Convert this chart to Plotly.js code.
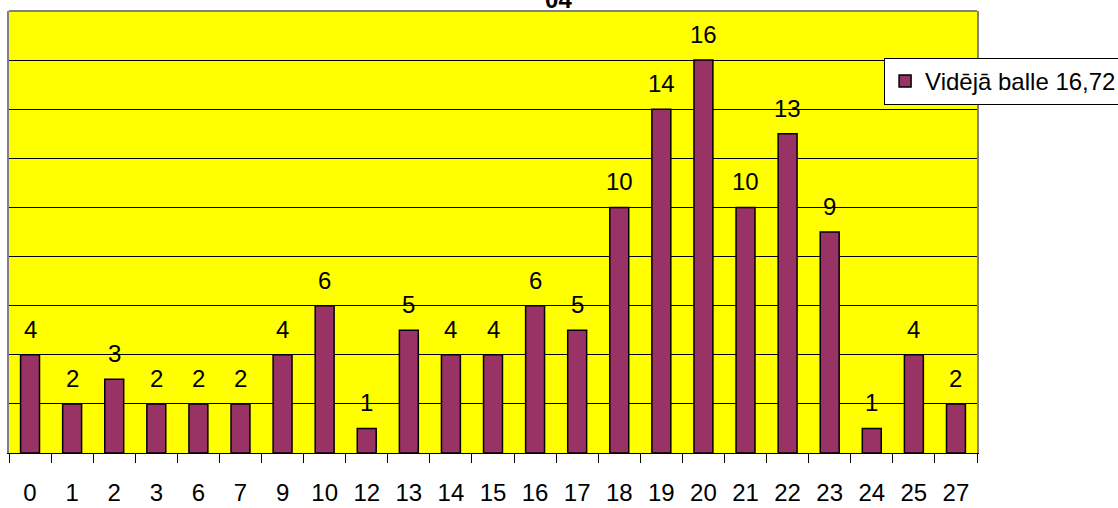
<!DOCTYPE html>
<html>
<head>
<meta charset="utf-8">
<script src="https://cdn.plot.ly/plotly-3.0.1.min.js"></script>
<style>html,body{margin:0;padding:0;background:#fff;}#chart{width:1118px;height:508px;}</style>
</head>
<body>
<div id="chart"></div>
<script>
const categories = ["0","1","2","3","6","7","9","10","12","13","14","15","16","17","18","19","20","21","22","23","24","25","27"];
const counts = [4,2,3,2,2,2,4,6,1,5,4,4,6,5,10,14,16,10,13,9,1,4,2];
const seriesName = "Vidējā balle 16,72";
const chartTitle = "04";

const FONT = "Liberation Sans, Arial, sans-serif";

const annotations = categories.map((c, i) => ({
  x: i, y: counts[i], xref: 'x', yref: 'y',
  text: String(counts[i]), showarrow: false,
  yanchor: 'bottom', yshift: 10,
  font: {family: FONT, size: 24, color: '#000'}
}));

const trace = {
  type: 'bar',
  x: categories,
  y: counts,
  name: seriesName,
  marker: {color: '#993366', line: {color: '#000', width: 1.5}},
  hoverinfo: 'x+y'
};

const layout = {
  width: 1118, height: 508,
  margin: {l: 9, r: 141, t: 11, b: 55, autoexpand: false},
  paper_bgcolor: '#ffffff',
  plot_bgcolor: '#ffff00',
  bargap: 0.55,
  showlegend: true,
  title: {text: '<b>' + chartTitle + '</b>', x: 0.4995, xanchor: 'center', y: 1, yanchor: 'middle', yref: 'container',
          font: {family: FONT, size: 24, color: '#000'}},
  legend: {x: 0.904, xanchor: 'left', y: 0.894, yanchor: 'top', bgcolor: '#fff',
           bordercolor: '#000', borderwidth: 1, font: {family: FONT, size: 24, color: '#000'}},
  xaxis: {type: 'category', showline: true, linecolor: '#000', linewidth: 1,
          ticks: 'outside', ticklen: 9, tickcolor: '#000', tickwidth: 1, tickson: 'boundaries',
          ticklabelstandoff: 18, tickangle: 0, automargin: false,
          tickfont: {family: FONT, size: 24, color: '#000'}, showgrid: false, fixedrange: true},
  yaxis: {range: [0, 18], dtick: 2, showticklabels: false, ticks: '', showgrid: true,
          gridcolor: '#000', gridwidth: 1, zeroline: false, showline: true, mirror: true,
          linecolor: '#808080', linewidth: 2, fixedrange: true, automargin: false},
  shapes: [{type: 'line', xref: 'paper', yref: 'paper', x0: 0, x1: 1, y0: 1, y1: 1,
            line: {color: '#808080', width: 2}}],
  annotations: annotations
};

Plotly.newPlot('chart', [trace], layout, {displayModeBar: false, staticPlot: true});
</script>
</body>
</html>
